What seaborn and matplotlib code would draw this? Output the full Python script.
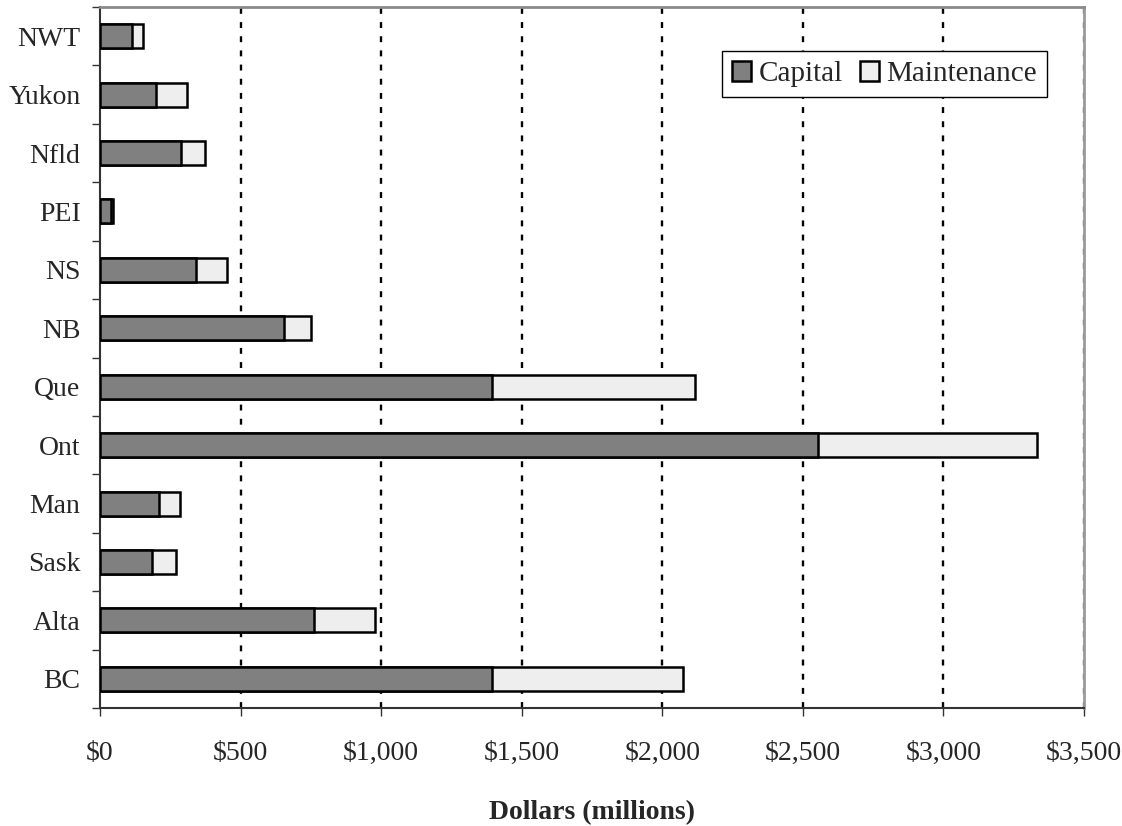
import matplotlib
matplotlib.use("Agg")
import matplotlib.pyplot as plt
from matplotlib.patches import Patch
from matplotlib.ticker import FuncFormatter, FixedLocator
import seaborn as sns
import pandas as pd

# Spending by province, millions of dollars
provinces = ["NWT", "Yukon", "Nfld", "PEI", "NS", "NB", "Que", "Ont",
             "Man", "Sask", "Alta", "BC"]
capital = [113, 200, 289, 39, 341, 653, 1393, 2554, 211, 184, 760, 1393]
maintenance = [41, 110, 86, 8, 109, 99, 724, 778, 73, 86, 218, 682]
x_ticks = [0, 500, 1000, 1500, 2000, 2500, 3000, 3500]
series_names = ["Capital", "Maintenance"]
series_colors = ["#808080", "#eeeeee"]

sns.set_theme(style="white")
plt.rcParams["font.family"] = ["Liberation Serif", "DejaVu Serif"]
FS = 20

df = pd.DataFrame({"Province": provinces, "Capital": capital,
                   "Maintenance": maintenance})
df["Total"] = df["Capital"] + df["Maintenance"]

fig = plt.figure(figsize=(11.22, 8.26), dpi=100)
ax = fig.add_axes([100 / 1122, 1 - 708 / 826, 984 / 1122, 701 / 826])

# Stacked bars: full total in the light colour, capital drawn over it
bar_kw = dict(orient="h", order=provinces, width=0.41, saturation=1,
              edgecolor="black", linewidth=1.8, errorbar=None, ax=ax, zorder=3)
sns.barplot(data=df, y="Province", x="Total", color=series_colors[1], **bar_kw)
sns.barplot(data=df, y="Province", x="Capital", color=series_colors[0], **bar_kw)

ax.set_xlim(x_ticks[0], x_ticks[-1])
ax.set_ylim(len(provinces) - 0.5, -0.5)

# Dotted vertical gridlines
for v in x_ticks[1:-1]:
    ax.axvline(v, color="black", linestyle=(0, (2.5, 3.5)), linewidth=1.7, zorder=1)
ax.axvline(x_ticks[-1], color="#555555", linestyle=(0, (2.5, 3.5)),
           linewidth=1.7, zorder=1)

# Axis ticks and labels
ax.set_xticks(x_ticks)
ax.xaxis.set_major_formatter(FuncFormatter(lambda v, p: f"${v:,.0f}"))
ax.tick_params(axis="x", which="major", direction="out", length=6, width=1,
               color="#333333", pad=18, labelsize=FS, bottom=True)
ax.set_yticks(range(len(provinces)))
ax.set_yticklabels(provinces)
ax.tick_params(axis="y", which="major", length=0, pad=14, labelsize=FS, left=True)
ax.yaxis.set_minor_locator(FixedLocator([i - 0.5 for i in range(len(provinces) + 1)]))
ax.tick_params(axis="y", which="minor", direction="out", length=6, width=1,
               color="#333333", left=True)
ax.set_ylabel("")
ax.set_xlabel("Dollars (millions)", fontsize=FS, fontweight="bold", labelpad=24)

for side in ["left", "bottom"]:
    ax.spines[side].set_color("#333333")
    ax.spines[side].set_linewidth(1.5)
ax.spines["top"].set_color("#8a8a8a")
ax.spines["top"].set_linewidth(2)
ax.spines["right"].set_color("#9a9a9a")
ax.spines["right"].set_linewidth(2)

handles = [Patch(facecolor=c, edgecolor="black", linewidth=1.8)
           for c in series_colors]
leg = ax.legend(handles, series_names, loc="upper left",
                bbox_to_anchor=(722 / 1122, 1 - 51 / 826),
                bbox_transform=fig.transFigure, ncol=2, fontsize=21,
                frameon=True, fancybox=False, handlelength=0.65,
                handleheight=0.65, handletextpad=0.25, columnspacing=0.6,
                borderpad=0.35, borderaxespad=0)
leg.get_frame().set_edgecolor("black")
leg.get_frame().set_linewidth(1)
leg.get_frame().set_alpha(1)

fig.savefig("out.png", dpi=100)
